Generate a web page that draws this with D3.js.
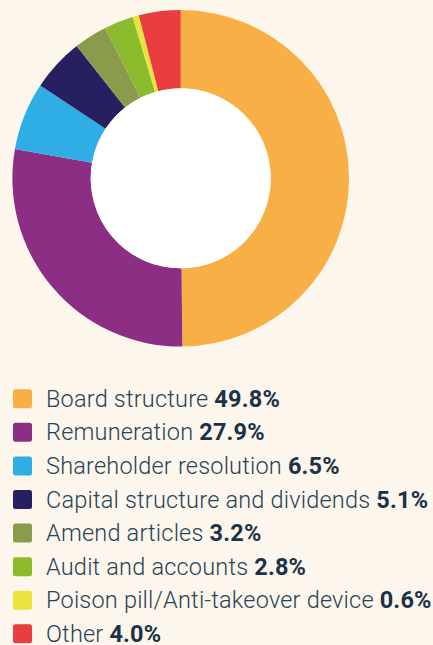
<!DOCTYPE html>
<html>
<head>
<meta charset="utf-8">
<script src="https://cdn.jsdelivr.net/npm/d3@7"></script>
<style>
  html, body { margin: 0; padding: 0; background: #fdf6ec; }
  svg { display: block; }
</style>
</head>
<body>
<svg id="chart" width="433" height="645"></svg>
<script>
  // Data
  const categories = ["Board structure", "Remuneration", "Shareholder resolution",
    "Capital structure and dividends", "Amend articles", "Audit and accounts",
    "Poison pill/Anti-takeover device", "Other"];
  const shares = [49.8, 27.9, 6.5, 5.1, 3.2, 2.8, 0.6, 4.0];
  const colors = ["#f8b046", "#8d2e85", "#2eaee4", "#262061", "#8a9b4c", "#8cbb2e", "#e9e33d", "#e83e40"];

  const svg = d3.select("#chart");
  const LABEL = "#274357";
  const VALUE = "#1a3348";

  // Donut
  const cx = 180.7, cy = 178.3;
  const outerR = 168.3, innerR = 90;

  const pie = d3.pie().sort(null).value(d => d.value);
  const arc = d3.arc().innerRadius(innerR).outerRadius(outerR);
  const rows = categories.map((c, i) => ({ name: c, value: shares[i], color: colors[i] }));

  const g = svg.append("g").attr("transform", `translate(${cx},${cy})`);
  g.selectAll("path")
    .data(pie(rows))
    .join("path")
    .attr("d", arc)
    .attr("fill", d => d.data.color);

  // white hole
  g.append("circle").attr("r", innerR).attr("fill", "#ffffff");

  // Legend
  const y = d3.scaleBand().domain(categories).range([389.3, 389.3 + 33.57 * 8]).paddingInner(0);
  const legend = svg.append("g");
  const item = legend.selectAll("g")
    .data(rows)
    .join("g")
    .attr("transform", d => `translate(0,${y(d.name)})`);

  item.append("rect")
    .attr("x", 13).attr("y", 0)
    .attr("width", 19).attr("height", 19)
    .attr("rx", 2.5)
    .attr("fill", d => d.color);

  const txt = item.append("text")
    .attr("x", 46).attr("y", 17.5)
    .attr("font-family", "Roboto, sans-serif")
    .attr("font-size", 23.5)
    .attr("letter-spacing", 0.2)
    .attr("fill", LABEL);
  txt.append("tspan").attr("font-weight", 300).text(d => d.name + " ");
  txt.append("tspan").attr("font-weight", 700).attr("fill", VALUE).text(d => d.value.toFixed(1) + "%");
</script>
</body>
</html>
